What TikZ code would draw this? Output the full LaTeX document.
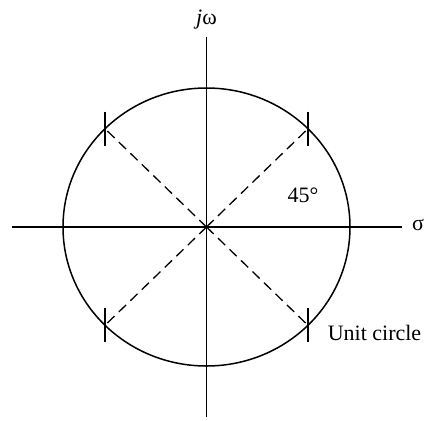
\documentclass[tikz,border=0pt]{standalone}
\usepackage{fontspec}
\setmainfont{Liberation Serif}
\usepackage{tikz}
\usetikzlibrary{calc}
\tikzset{axis/.style={line width=.75pt},
  ray/.style={line width=.65pt,dash pattern=on 5pt off 3pt},
  lbl/.style={inner sep=0pt,font=\fontsize{11}{13}\selectfont}}

\begin{document}
\begin{tikzpicture}[x=.5pt,y=.5pt]
\useasboundingbox (-206.5,-193) rectangle (222.5,227);
\coordinate (O) at (0,0);
\draw[axis] (-194.5,0) coordinate (sl) -- (195.5,0) coordinate (sr);
\draw[axis] (0,-190) coordinate (wb) -- (0,190) coordinate (wt);
\draw[axis] (O) ellipse [x radius=143.5,y radius=139];
\foreach \n/\a in {ur/45,ul/135,ll/225,lr/315}{
  \coordinate (\n) at ($(O)+({143.5*cos(\a)},{139*sin(\a)})$);
  \draw[ray] (O) -- (\n);
  \draw[axis] ($(\n)+(0,17)$) -- ($(\n)+(0,-17)$);
}
\node[lbl] (jw) at (0,207) {\textit{j}ω};
\node[lbl] (sg) at (211.5,2) {σ};
\node[lbl] (ang) at (96.5,32) {45°};
\node[lbl] (uc) at (168,-106) {Unit circle};
\end{tikzpicture}
\end{document}
